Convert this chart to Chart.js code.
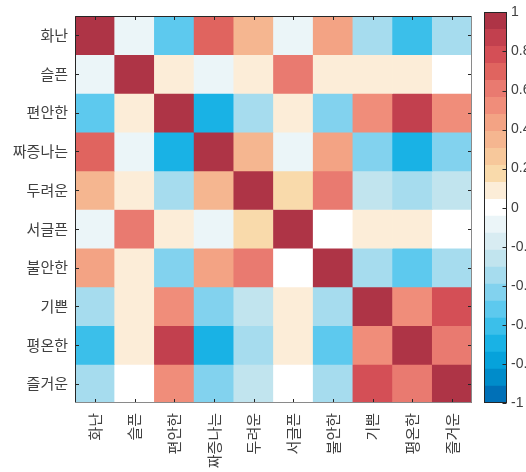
<!DOCTYPE html>
<html>
<head>
<meta charset="utf-8">
<script src="https://cdn.jsdelivr.net/npm/chart.js@4/dist/chart.umd.min.js"></script>
<style>
  html, body { margin: 0; padding: 0; background: #fff; }
  #wrap { position: relative; width: 526px; height: 472px; }
  #wrap canvas { position: absolute; left: 0; top: 0; }
  #cbar { pointer-events: none; }
</style>
</head>
<body>
<div id="wrap">
  <canvas id="heat" width="526" height="472"></canvas>
  <canvas id="cbar" width="526" height="472"></canvas>
</div>
<script>
// Emotion words (rows and columns share the same order)
const emotions = ['화난', '슬픈', '편안한', '짜증나는', '두려운', '서글픈', '불안한', '기쁜', '평온한', '즐거운'];

// Correlation coefficients, one row per emotion
const rowAngry    = [ 1.00, -0.09, -0.52,  0.70,  0.35, -0.09,  0.43, -0.35, -0.61, -0.35];
const rowSad      = [-0.09,  1.00,  0.09, -0.09,  0.09,  0.61,  0.09,  0.09,  0.09,  0.00];
const rowRelaxed  = [-0.52,  0.09,  1.00, -0.70, -0.35,  0.09, -0.43,  0.52,  0.87,  0.52];
const rowAnnoyed  = [ 0.70, -0.09, -0.70,  1.00,  0.35, -0.09,  0.43, -0.43, -0.70, -0.43];
const rowAfraid   = [ 0.35,  0.09, -0.35,  0.35,  1.00,  0.17,  0.61, -0.26, -0.35, -0.26];
const rowSorrow   = [-0.09,  0.61,  0.09, -0.09,  0.17,  1.00,  0.00,  0.09,  0.09,  0.00];
const rowAnxious  = [ 0.43,  0.09, -0.43,  0.43,  0.61,  0.00,  1.00, -0.35, -0.52, -0.35];
const rowHappy    = [-0.35,  0.09,  0.52, -0.43, -0.26,  0.09, -0.35,  1.00,  0.52,  0.78];
const rowCalm     = [-0.61,  0.09,  0.87, -0.70, -0.35,  0.09, -0.52,  0.52,  1.00,  0.61];
const rowJoyful   = [-0.35,  0.00,  0.52, -0.43, -0.26,  0.00, -0.35,  0.78,  0.61,  1.00];
const corrRows = [rowAngry, rowSad, rowRelaxed, rowAnnoyed, rowAfraid, rowSorrow, rowAnxious, rowHappy, rowCalm, rowJoyful];

// Colour bar tick values
const colorbarTicks = [-1, -0.8, -0.6, -0.4, -0.2, 0, 0.2, 0.4, 0.6, 0.8, 1];

// Discrete diverging colour map, from -1 (blue) to 1 (red)
const levelColors = [
  '#0070B7', '#008CCA', '#06A2DB', '#19B2E5', '#3BBFEA', '#5DC9EE', '#82D2EE', '#A6DCEE',
  '#C1E4EE', '#D8ECF2', '#EBF5F8', '#FFFFFF', '#FCEDD8', '#F9DAAB', '#F7C89B', '#F5B690',
  '#F3A384', '#F08D7A', '#E97A70', '#E0645F', '#D44F56', '#C2404E', '#AE3446'
];
const cmin = -1, cmax = 1;
const step = (cmax - cmin) / levelColors.length;

function colorFor(v) {
  const k = Math.min(levelColors.length - 1, Math.max(0, Math.floor((v - cmin) / step)));
  return levelColors[k];
}

const LABEL_FONT = { family: '"Noto Sans CJK KR", sans-serif', size: 15 };
const NUM_FONT = { family: '"Liberation Sans", sans-serif', size: 14 };
const TEXT = '#404040';

// Box with inward tick marks on every side of the matrix
const matrixFrame = {
  id: 'matrixFrame',
  afterDraw(chart) {
    const { ctx, chartArea: a, scales: { x, y } } = chart;
    const L = 4;
    ctx.save();
    ctx.lineWidth = 1;
    ctx.strokeStyle = '#262626';
    ctx.beginPath();
    x.ticks.forEach((t, i) => {
      const px = Math.round(x.getPixelForTick(i)) + 0.5;
      ctx.moveTo(px, a.top); ctx.lineTo(px, a.top + L);
      ctx.moveTo(px, a.bottom); ctx.lineTo(px, a.bottom - L);
    });
    y.ticks.forEach(t => {
      const py = Math.round(y.getPixelForValue(t.value)) + 0.5;
      ctx.moveTo(a.left, py); ctx.lineTo(a.left + L, py);
      ctx.moveTo(a.right, py); ctx.lineTo(a.right - L, py);
    });
    ctx.stroke();
    const l = Math.round(a.left) + 0.5, r = Math.round(a.right) - 0.5;
    const tp = Math.round(a.top) + 0.5, b = Math.round(a.bottom) - 0.5;
    ctx.beginPath();
    ctx.moveTo(l, b); ctx.lineTo(l, tp); ctx.lineTo(r, tp);
    ctx.stroke();
    ctx.strokeStyle = '#8a8a8a';
    ctx.beginPath();
    ctx.moveTo(r, tp); ctx.lineTo(r, b); ctx.lineTo(l, b);
    ctx.stroke();
    ctx.restore();
  }
};

new Chart(document.getElementById('heat'), {
  type: 'bar',
  data: {
    labels: emotions,
    datasets: corrRows.map((row, i) => ({
      label: emotions[i],
      data: row.map(() => 1),
      corr: row,
      backgroundColor: row.map(colorFor),
      borderWidth: 0,
      barPercentage: 1,
      categoryPercentage: 1
    }))
  },
  options: {
    responsive: false,
    animation: false,
    layout: { padding: { top: 6, right: 54, left: 0, bottom: 0 } },
    plugins: {
      legend: { display: false },
      tooltip: {
        callbacks: {
          title: items => items[0].dataset.label + ' / ' + emotions[items[0].dataIndex],
          label: item => 'r = ' + item.dataset.corr[item.dataIndex].toFixed(2)
        }
      }
    },
    scales: {
      x: {
        stacked: true,
        grid: { display: false, drawTicks: false },
        border: { display: false },
        ticks: { font: LABEL_FONT, color: TEXT, minRotation: 90, maxRotation: 90, padding: 10, autoSkip: false },
        afterFit: s => { s.height = 69; }
      },
      y: {
        stacked: true,
        min: 0,
        max: emotions.length,
        reverse: true,
        grid: { display: false, drawTicks: false },
        border: { display: false },
        afterBuildTicks: s => { s.ticks = emotions.map((_, i) => ({ value: i + 0.5 })); },
        ticks: { font: LABEL_FONT, color: TEXT, padding: 7, autoSkip: false,
                 callback: v => emotions[Math.floor(v)] },
        afterFit: s => { s.width = 75; }
      }
    }
  },
  plugins: [matrixFrame]
});

// Outline and inward ticks of the colour bar
const barFrame = {
  id: 'barFrame',
  afterDraw(chart) {
    const { ctx, chartArea: a, scales: { y } } = chart;
    ctx.save();
    ctx.lineWidth = 1;
    ctx.strokeStyle = '#262626';
    const l = Math.round(a.left) + 0.5, r = Math.round(a.right) - 0.5;
    const tp = Math.round(a.top) + 0.5, b = Math.round(a.bottom) - 0.5;
    ctx.strokeRect(l, tp, r - l, b - tp);
    ctx.beginPath();
    y.ticks.forEach(t => {
      const py = Math.round(y.getPixelForValue(t.value)) + 0.5;
      ctx.moveTo(r, py); ctx.lineTo(r - 4, py);
    });
    ctx.stroke();
    ctx.restore();
  }
};

new Chart(document.getElementById('cbar'), {
  type: 'bar',
  data: {
    labels: [''],
    datasets: levelColors.map((c, k) => ({
      data: [[cmin + k * step, cmin + (k + 1) * step]],
      backgroundColor: c,
      borderWidth: 0,
      grouped: false,
      barPercentage: 1,
      categoryPercentage: 1
    }))
  },
  options: {
    responsive: false,
    animation: false,
    events: [],
    layout: { padding: { left: 484, top: 6, bottom: 69, right: 0 } },
    plugins: { legend: { display: false }, tooltip: { enabled: false } },
    scales: {
      x: { display: false },
      y: {
        position: 'right',
        min: cmin,
        max: cmax,
        grid: { display: false, drawTicks: false },
        border: { display: false },
        afterBuildTicks: s => { s.ticks = colorbarTicks.map(v => ({ value: v })); },
        ticks: { font: NUM_FONT, color: TEXT, padding: 4, callback: v => String(+v.toFixed(1)) },
        afterFit: s => { s.width = 19; }
      }
    }
  },
  plugins: [barFrame]
});
</script>
</body>
</html>
